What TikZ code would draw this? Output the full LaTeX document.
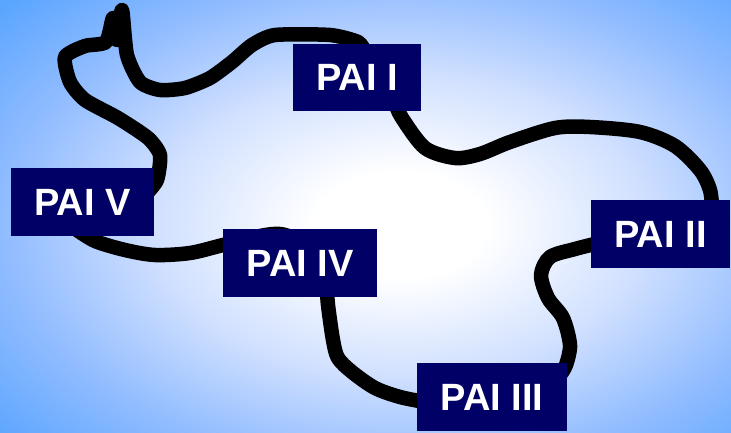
\documentclass[tikz,border=0pt]{standalone}
\usepackage{fontspec}
\setmainfont{Liberation Sans}
\usetikzlibrary{backgrounds}
\definecolor{boxnavy}{RGB}{0,0,102}
\definecolor{edgeblue}{RGB}{63,156,255}
\definecolor{midblue}{RGB}{90,165,255}
\definecolor{lightblue}{RGB}{145,188,255}
\definecolor{paleblue}{RGB}{210,225,255}
\pgfdeclareradialshading{bgshade}{\pgfpoint{0bp}{0bp}}{%
  color(0bp)=(white); color(5bp)=(white); color(14bp)=(paleblue);
  color(23bp)=(lightblue); color(31bp)=(midblue); color(44bp)=(edgeblue);
  color(50bp)=(edgeblue)}
\tikzset{
  pai/.style={fill=boxnavy, text=white, font=\bfseries\fontsize{38}{40}\selectfont,
    inner sep=0pt, minimum height=68pt, anchor=center},
  road/.style={line width=14.5pt, black, line cap=round, line join=round}
}
\begin{document}
\begin{tikzpicture}[x=1pt,y=-1pt]
\useasboundingbox (0,0) rectangle (731,433);
\node[pai, minimum width=128pt, minimum height=67pt] (I) at (357,77.5) {PAI I};
\node[pai, minimum width=139pt] (II) at (660.5,234) {PAI II};
\node[pai, minimum width=150pt] (III) at (492,397) {PAI III};
\node[pai, minimum width=154pt] (IV) at (300,263) {PAI IV};
\node[pai, minimum width=143pt] (V) at (82.5,202) {PAI V};
\begin{scope}[on background layer]
\begin{scope}
  \clip (0,0) rectangle (731,433);
  \shade[shading=bgshade] (-30,-40) rectangle (830,490);
\end{scope}
\draw[road] plot[smooth, tension=0.5] coordinates {([shift={(-26,-8)}]I.south east)
  (402,118) (425,148) (455,158) (480,154) (510,142) (555,128) (590,127) (640,132)
  (675,146) (700,170) (710,190) ([shift={(-18,10)}]II.north east)};
\draw[road] plot[smooth, tension=0.5] coordinates {([shift={(8,9)}]II.west)
  (575,249) (550,257) (541,275) (548,298) (563,318) (570,345) (566,365)
  ([shift={(-7,12)}]III.north east)};
\draw[road] plot[smooth, tension=0.5] coordinates {([shift={(8,5)}]III.west)
  (400,397) (375,388) (352,372) (338,358) (333,340) (328,305)
  ([shift={(27,-9)}]IV.south)};
\draw[road] plot[smooth, tension=0.5] coordinates {([shift={(0,11)}]IV.north)
  (280,234) (260,236) (223,245) (190,253) (155,255) (125,250) (95,241)
  ([shift={(-8,-8)}]V.south)};
\draw[road] plot[smooth, tension=0.4] coordinates {([shift={(-9,-7)}]V.east)
  (157,180) (160,155) (148,138) (118,118) (85,100) (70,82) (65,57) (85,46)
  (106,42) (113,18) (117,40) (122,10) (127,55) (140,82) (160,90) (185,88)
  (210,78) (232,62) (252,45) (275,35) (330,35) (358,42)
  ([shift={(8,8)}]I.north)};
\end{scope}
\end{tikzpicture}
\end{document}
